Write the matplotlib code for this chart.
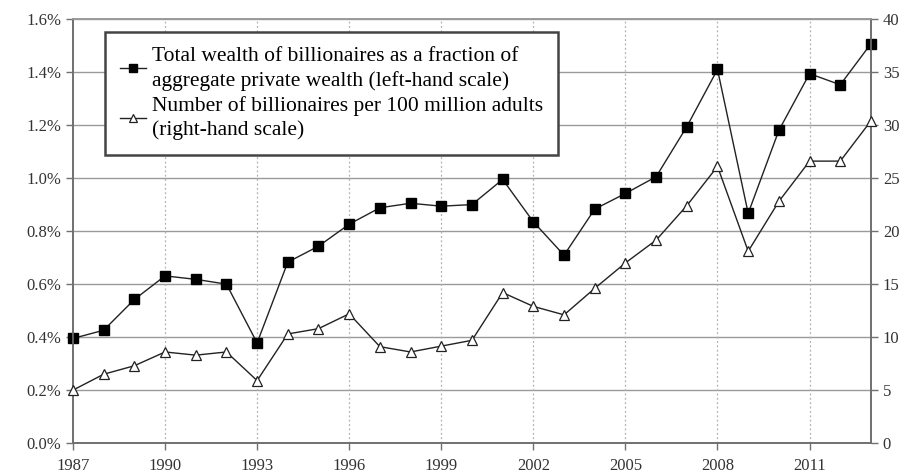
import matplotlib
matplotlib.use("Agg")
import matplotlib.pyplot as plt
from matplotlib.ticker import FuncFormatter

years = list(range(1987, 2014))
wealth_share = [0.395, 0.426, 0.542, 0.631, 0.618, 0.600, 0.378, 0.683, 0.743, 0.826,
                0.888, 0.905, 0.894, 0.900, 0.995, 0.835, 0.709, 0.883, 0.942, 1.005,
                1.194, 1.410, 0.867, 1.180, 1.394, 1.352, 1.507]
billionaires_per_100m = [5.0, 6.5, 7.3, 8.6, 8.3, 8.6, 5.9, 10.3, 10.8, 12.2,
                         9.1, 8.6, 9.15, 9.7, 14.2, 12.9, 12.1, 14.6, 17.0, 19.15,
                         22.4, 26.1, 18.1, 22.8, 26.6, 26.6, 30.4]
x_ticks = [1987, 1990, 1993, 1996, 1999, 2002, 2005, 2008, 2011]
left_ticks = [0.0, 0.2, 0.4, 0.6, 0.8, 1.0, 1.2, 1.4, 1.6]
right_ticks = [0, 5, 10, 15, 20, 25, 30, 35, 40]
label_wealth = "Total wealth of billionaires as a fraction of\naggregate private wealth (left-hand scale)"
label_number = "Number of billionaires per 100 million adults\n(right-hand scale)"

plt.rcParams['font.family'] = ['Liberation Serif', 'DejaVu Serif']

fig = plt.figure(figsize=(9.12, 4.76), dpi=100)
ax = fig.add_axes([0.080, 0.069, 0.875, 0.891])
ax2 = ax.twinx()

grid_c = '#9a9a9a'
ax.set_xlim(1987, 2013)
ax.set_ylim(0, 1.6)
ax2.set_ylim(0, 40)
ax.set_xticks(x_ticks)
ax.set_yticks(left_ticks)
ax2.set_yticks(right_ticks)
ax.yaxis.set_major_formatter(FuncFormatter(lambda v, p: f"{v:.1f}%"))

for y in left_ticks[1:]:
    ax.axhline(y, color=grid_c, lw=1.0, zorder=0)
for xv in x_ticks[1:]:
    ax.axvline(xv, color='#b0b0b0', lw=0.9, ls=(0, (1.5, 2)), zorder=0)

for a in (ax, ax2):
    for s in a.spines.values():
        s.set_color('#707070')
        s.set_linewidth(1.2)
    a.spines['top'].set_color(grid_c)
    a.tick_params(colors='#707070', labelcolor='#333333', labelsize=12, length=5, width=1)
ax.tick_params(axis='x', pad=6)

l1, = ax.plot(years, wealth_share, color='#222222', lw=1.0, marker='s', ms=6.5,
              mfc='black', mec='black', zorder=3, clip_on=False)
l2, = ax2.plot(years, billionaires_per_100m, color='#222222', lw=1.0, marker='^', ms=7,
               mfc='white', mec='#222222', mew=0.9, zorder=3, clip_on=False)

leg = ax2.legend([l1, l2], [label_wealth, label_number], loc='upper left',
                 bbox_to_anchor=(0.040, 0.969), borderaxespad=0, fontsize=15.5,
                 frameon=True, fancybox=False,
                 handlelength=1.2, handletextpad=0.3, borderpad=0.7, labelspacing=0.25,
                 markerscale=0.8)
for t in leg.get_texts():
    t.set_linespacing(1.3)
leg.get_frame().set_edgecolor('#444444')
leg.get_frame().set_linewidth(1.8)
leg.get_frame().set_alpha(1)
leg.set_zorder(10)

fig.savefig("out.png", dpi=100)
